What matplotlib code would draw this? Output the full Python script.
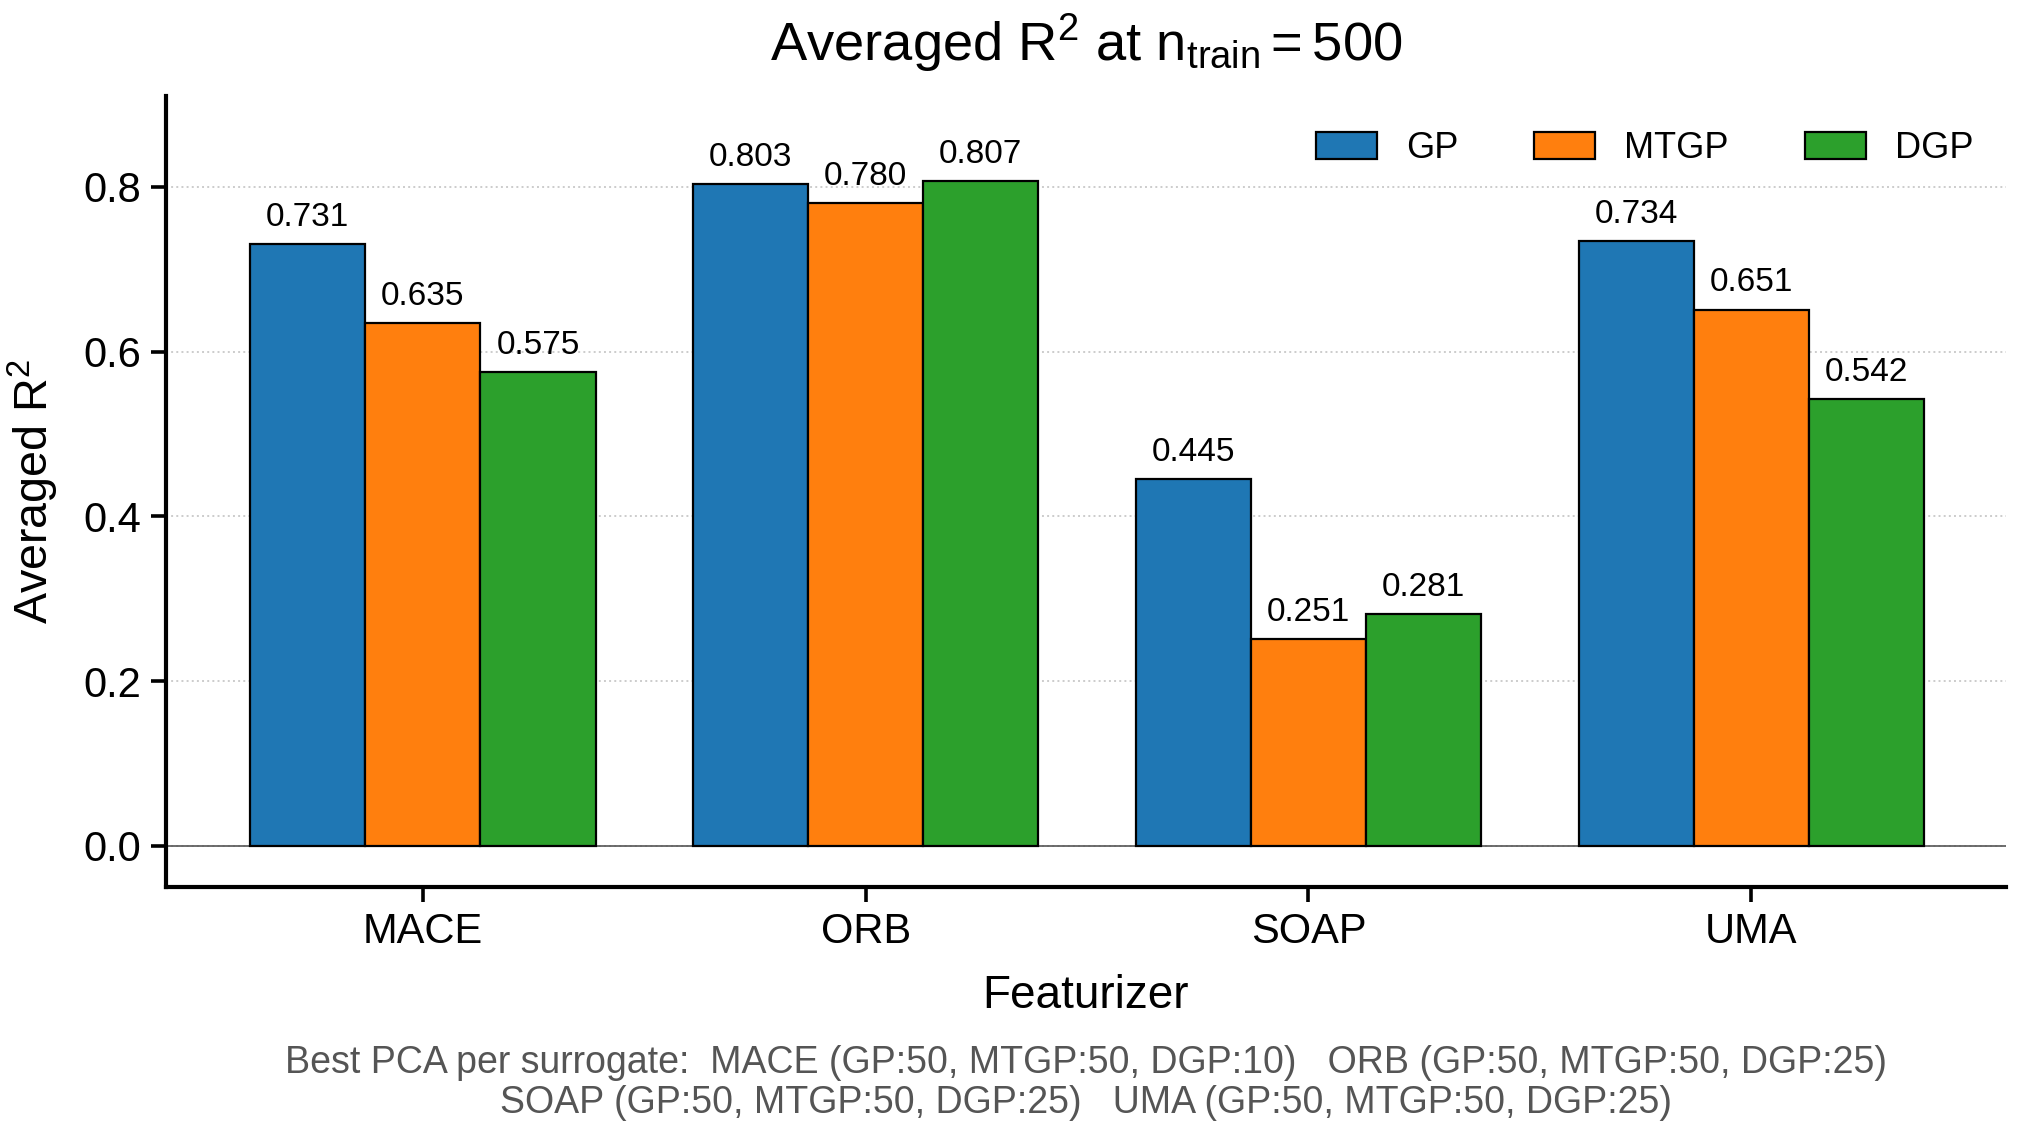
"""Averaged R^2 per featurizer and surrogate at n_train = 500."""

import matplotlib.pyplot as plt
import numpy as np

plt.switch_backend("Agg")

plt.rcParams["font.family"] = ["Liberation Sans", "DejaVu Sans"]
plt.rcParams["mathtext.fontset"] = "custom"
plt.rcParams["mathtext.rm"] = "Liberation Sans"
plt.rcParams["mathtext.it"] = "Liberation Sans:italic"
plt.rcParams["mathtext.bf"] = "Liberation Sans:bold"

featurizers = ["MACE", "ORB", "SOAP", "UMA"]
surrogates = ["GP", "MTGP", "DGP"]
gp = [0.731, 0.803, 0.445, 0.734]
mtgp = [0.635, 0.780, 0.251, 0.651]
dgp = [0.575, 0.807, 0.281, 0.542]
colors = ["#1f77b4", "#ff7f0e", "#2ca02c"]

best_pca = (
    "Best PCA per surrogate:  MACE (GP:50, MTGP:50, DGP:10)   ORB (GP:50, MTGP:50, DGP:25)\n"
    "SOAP (GP:50, MTGP:50, DGP:25)   UMA (GP:50, MTGP:50, DGP:25)"
)

fig, ax = plt.subplots(figsize=(10.085, 5.66))
fig.subplots_adjust(left=0.0823, right=0.9945, top=0.915, bottom=0.2164)

x = np.arange(len(featurizers))
width = 0.26
for i, (name, vals) in enumerate(zip(surrogates, [gp, mtgp, dgp])):
    bars = ax.bar(
        x + (i - 1) * width, vals, width, color=colors[i], edgecolor="black",
        linewidth=0.8, label=name, zorder=3,
    )
    ax.bar_label(bars, labels=[f"{v:.3f}" for v in vals], padding=4, fontsize=12)

ax.axhline(0.0, color="#555555", lw=0.6, zorder=2)
ax.yaxis.grid(True, ls=":", color="#cccccc", lw=0.7, zorder=0)
ax.set_axisbelow(True)

ax.set_xlim(-0.58, 3.575)
ax.set_ylim(-0.05, 0.91)
ax.set_yticks([0.0, 0.2, 0.4, 0.6, 0.8])
ax.set_xticks(x)
ax.set_xticklabels(featurizers)
ax.tick_params(axis="x", labelsize=15, length=5.5, width=1.3)
ax.tick_params(axis="y", labelsize=15, length=5.5, width=1.3)

for side in ("top", "right"):
    ax.spines[side].set_visible(False)
for side in ("left", "bottom"):
    ax.spines[side].set_linewidth(1.5)

ax.set_xlabel("Featurizer", fontsize=16.5, labelpad=8)
ax.set_ylabel(r"Averaged R$^2$", fontsize=16.8, labelpad=8)
ax.set_title(r"Averaged R$^2$ at n$_{\mathrm{train}}=500$", fontsize=19.6, pad=13)

ax.legend(
    loc="upper right", ncol=3, frameon=False, fontsize=13, handlelength=1.7,
    handleheight=0.75, columnspacing=2.1, handletextpad=0.8,
    bbox_to_anchor=(1.0, 0.997),
)

fig.text(
    0.5384, 0.077, best_pca, ha="center", va="top",
    fontsize=13.5, color="#555555", linespacing=1.15,
)

fig.savefig("out.png", dpi=200)
plt.close(fig)
